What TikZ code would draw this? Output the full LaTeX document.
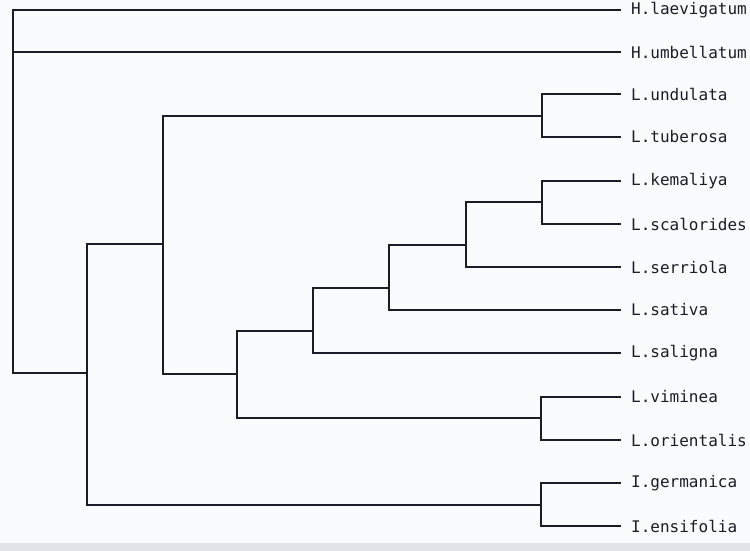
\documentclass[tikz,border=0pt]{standalone}
\usepackage{fontspec}
\newfontfamily\plotfont{DejaVu Sans Mono}
\definecolor{ink}{HTML}{1C1C28}
\definecolor{paper}{HTML}{FAFBFD}
\definecolor{scan}{HTML}{E2E3E8}
\begin{document}
\begin{tikzpicture}[x=1pt,y=-1pt,
  branch/.style={draw=ink,line width=1.6pt,line cap=rect},
  leaf/.style={anchor=west,inner xsep=11pt,inner ysep=0pt,font=\plotfont\fontsize{16}{16}\selectfont,text=ink}]
\fill[paper] (0,0) rectangle (750,551);
\useasboundingbox (0,0) rectangle (750,551);
\fill[scan] (0,543) rectangle (750,551);
% leaves
\node[leaf] (hl) at (620,10) {H.laevigatum};
\node[leaf] (hu) at (620,52) {H.umbellatum};
\node[leaf] (lun) at (620,94) {L.undulata};
\node[leaf] (ltu) at (620,137) {L.tuberosa};
\node[leaf] (lke) at (620,181) {L.kemaliya};
\node[leaf] (lsc) at (620,224) {L.scalorides};
\node[leaf] (lse) at (620,267) {L.serriola};
\node[leaf] (lsa) at (620,310) {L.sativa};
\node[leaf] (lsg) at (620,353) {L.saligna};
\node[leaf] (lvi) at (620,397) {L.viminea};
\node[leaf] (lor) at (620,440) {L.orientalis};
\node[leaf] (ige) at (620,483) {I.germanica};
\node[leaf] (ien) at (620,526) {I.ensifolia};
% internal nodes
\coordinate (n1) at (542,116);
\coordinate (n2) at (542,202);
\coordinate (n3) at (466,245);
\coordinate (n4) at (389,288);
\coordinate (n5) at (313,331);
\coordinate (n6) at (541,418);
\coordinate (n7) at (237,374);
\coordinate (n8) at (163,244);
\coordinate (n9) at (541,505);
\coordinate (n10) at (87,373);
\coordinate (root) at (13,52);
% branches
\draw[branch] (n1) |- (lun.west); \draw[branch] (n1) |- (ltu.west);
\draw[branch] (n2) |- (lke.west); \draw[branch] (n2) |- (lsc.west);
\draw[branch] (n3) |- (n2); \draw[branch] (n3) |- (lse.west);
\draw[branch] (n4) |- (n3); \draw[branch] (n4) |- (lsa.west);
\draw[branch] (n5) |- (n4); \draw[branch] (n5) |- (lsg.west);
\draw[branch] (n6) |- (lvi.west); \draw[branch] (n6) |- (lor.west);
\draw[branch] (n7) |- (n5); \draw[branch] (n7) |- (n6);
\draw[branch] (n8) |- (n1); \draw[branch] (n8) |- (n7);
\draw[branch] (n9) |- (ige.west); \draw[branch] (n9) |- (ien.west);
\draw[branch] (n10) |- (n8); \draw[branch] (n10) |- (n9);
\draw[branch] (root) |- (hl.west); \draw[branch] (root) |- (hu.west);
\draw[branch] (root) |- (n10);
\end{tikzpicture}
\end{document}
